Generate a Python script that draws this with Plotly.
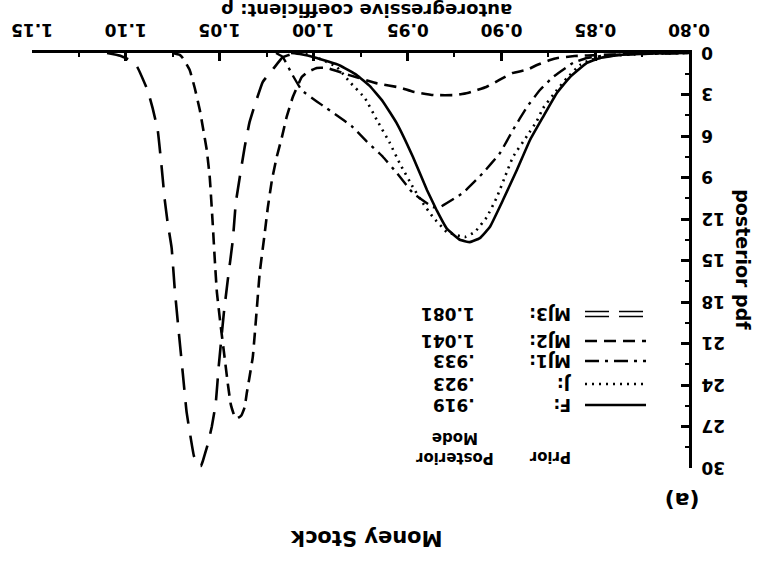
import plotly.graph_objects as go

# ---------------- data ----------------
X_TICKS = [0.80, 0.85, 0.90, 0.95, 1.00, 1.05, 1.10, 1.15]
X_TICK_LABELS = ["0.80", "0.85", "0.90", "0.95", "1.00", "1.05", "1.10", "1.15"]
Y_TICKS = [0, 3, 6, 9, 12, 15, 18, 21, 24, 27, 30]
Y_TICK_LABELS = ["0", "3", "6", "9", "12", "15", "18", "21", "24", "27", "30"]

SERIES_NAMES = ["F:", "J:", "MJ1:", "MJ2:", "MJ3:"]
POSTERIOR_MODES = [".919", ".923", ".933", "1.041", "1.081"]

F_X = [1.012, 1.0073, 0.9983, 0.986, 0.977, 0.970, 0.9631, 0.9556, 0.9471, 0.9396, 0.9343,
       0.929, 0.9221, 0.9167, 0.9114, 0.9061, 0.8991, 0.8917, 0.8847, 0.8778, 0.8704,
       0.8634, 0.8544, 0.8474, 0.8368, 0.8208, 0.80]
F_Y = [0.0, 0.07, 0.36, 0.9, 1.6, 2.4, 3.5, 5.1, 7.5, 9.9, 11.4,
       12.7, 13.5, 13.67, 13.38, 12.58, 10.63, 8.46, 6.29, 4.63, 2.89,
       1.74, 0.72, 0.36, 0.14, 0.03, 0.0]

J_X = [1.008, 1.0021, 0.9951, 0.9876, 0.9807, 0.9727, 0.9663, 0.9594, 0.954, 0.9471, 0.9418,
       0.9364, 0.929, 0.9194, 0.9141, 0.9077, 0.9023, 0.8981, 0.8938, 0.8863, 0.881,
       0.8778, 0.8704, 0.865, 0.8581, 0.8528, 0.8421, 0.8261, 0.80]
J_Y = [0.0, 0.14, 0.51, 1.01, 2.10, 3.25, 4.84, 6.5, 8.0, 9.69, 10.85,
       11.86, 12.94, 13.30, 12.94, 11.86, 10.41, 8.97, 7.52, 6.0, 4.9,
       4.0, 2.68, 1.81, 0.87, 0.51, 0.22, 0.07, 0.0]

MJ1_X = [1.020, 1.0164, 1.0116, 1.0063, 0.9983, 0.993, 0.9887, 0.9796, 0.9716, 0.9631, 0.9556,
         0.9471, 0.9364, 0.9327, 0.9205, 0.9098, 0.9007, 0.8938, 0.8863, 0.8794, 0.8725,
         0.8618, 0.8544, 0.8421, 0.826, 0.80]
MJ1_Y = [0.0, 0.29, 1.5, 2.7, 3.5, 4.0, 4.4, 5.3, 6.4, 7.5, 8.68,
         10.12, 11.14, 11.14, 10.12, 8.68, 7.23, 5.57, 3.90, 2.68, 1.74,
         0.72, 0.36, 0.14, 0.07, 0.0]

MJ2_X = [1.075, 1.0713, 1.0697, 1.066, 1.0633, 1.0606, 1.059, 1.0569, 1.0553, 1.0537, 1.0526,
         1.0515, 1.0495, 1.0474, 1.0457, 1.0441, 1.0420, 1.0405, 1.0385, 1.0367, 1.0356,
         1.0324, 1.0303, 1.0287, 1.026, 1.0244, 1.0222, 1.0196, 1.0169, 1.0143, 1.0111,
         1.0063, 1.0031, 0.9983, 0.993, 0.981, 0.966, 0.954, 0.947, 0.936, 0.924,
         0.918, 0.913, 0.908, 0.901, 0.894, 0.886, 0.881, 0.874, 0.870, 0.861,
         0.847, 0.826, 0.81]
MJ2_Y = [0.0, 0.14, 0.36, 1.23, 2.53, 4.12, 5.35, 7.01, 9.0, 12.4, 15.0,
         17.3, 19.7, 22.0, 23.9, 25.4, 26.3, 26.4, 26.2, 25.6, 24.6,
         22.0, 18.6, 15.9, 13.0, 11.2, 9.2, 7.5, 6.1, 4.6, 3.2,
         1.74, 1.37, 1.08, 1.08, 1.6, 2.2, 2.5, 2.8, 3.04, 3.04,
         2.89, 2.68, 2.46, 1.95, 1.45, 1.2, 0.87, 0.51, 0.36, 0.22,
         0.14, 0.07, 0.0]

MJ3_X = [1.110, 1.103, 1.098, 1.094, 1.0884, 1.0857, 1.083, 1.0809, 1.0793, 1.0777, 1.0756,
         1.074, 1.0718, 1.0697, 1.0676, 1.0638, 1.0617, 1.0600, 1.059, 1.0564, 1.0542,
         1.0521, 1.0505, 1.0478, 1.0457, 1.043, 1.0414, 1.0367, 1.0341, 1.0314, 1.0271,
         1.0218, 1.0164, 1.010]
MJ3_Y = [0.0, 0.2, 0.5, 1.0, 2.7, 4.0, 5.6, 8.3, 10.6, 12.3, 14.1,
         17.0, 20.2, 23.1, 26.0, 29.1, 29.85, 29.85, 29.5, 28.3, 27.0,
         25.3, 22.6, 18.8, 16.4, 13.5, 10.8, 6.8, 5.0, 3.8, 2.1,
         1.2, 0.3, 0.0]

# ---------------- figure ----------------
FONT = "DejaVu Sans"
BLACK = "black"

styles = [
    dict(dash="solid", width=2.6),
    dict(dash="2px,5px", width=2.6),
    dict(dash="14px,6px,3px,6px", width=2.4),
    dict(dash="12px,7px", width=2.6),
    dict(dash="22px,12px", width=2.6),
]
xs = [F_X, J_X, MJ1_X, MJ2_X, MJ3_X]
ys = [F_Y, J_Y, MJ1_Y, MJ2_Y, MJ3_Y]

fig = go.Figure()
for name, x, y, st in zip(SERIES_NAMES, xs, ys, styles):
    fig.add_trace(go.Scatter(x=x, y=y, mode="lines", name=name, showlegend=False,
                             hoverinfo="skip",
                             line=dict(color=BLACK, width=st["width"], dash=st["dash"],
                                       shape="spline", smoothing=0.3)))

fig.update_layout(
    width=782, height=562,
    margin=dict(l=32, r=93, t=53, b=94),
    paper_bgcolor="white", plot_bgcolor="white",
    font=dict(family=FONT, color=BLACK),
    showlegend=False,
    xaxis=dict(
        side="top", range=[1.15, 0.80], tickmode="array",
        tickvals=X_TICKS, showticklabels=False, automargin=False,
        ticks="inside", ticklen=8, tickwidth=2.5, tickcolor=BLACK,
        showline=True, linewidth=3, linecolor=BLACK, showgrid=False, zeroline=False,
        minor=dict(tick0=0.8, dtick=0.025, ticks="inside", ticklen=4, tickwidth=2,
                   tickcolor=BLACK, showgrid=False),
    ),
    yaxis=dict(
        side="right", range=[30, 0], tickmode="array",
        tickvals=Y_TICKS, showticklabels=False, automargin=False,
        ticks="inside", ticklen=8, tickwidth=2.5, tickcolor=BLACK,
        showline=True, linewidth=3, linecolor=BLACK, showgrid=False, zeroline=False,
        minor=dict(tick0=0, dtick=1.5, ticks="inside", ticklen=4, tickwidth=2,
                   tickcolor=BLACK, showgrid=False),
    ),
)

tick_font = dict(family=FONT, size=17, color=BLACK, weight="bold")
ann_font = dict(family=FONT, size=17, color=BLACK, weight="bold")

# upside-down tick labels
for v, lab in zip(X_TICKS, X_TICK_LABELS):
    fig.add_annotation(text=lab, x=v, xref="x", y=1, yref="paper",
                       xanchor="center", yanchor="bottom", yshift=11,
                       showarrow=False, textangle=180, font=tick_font)
for v, lab in zip(Y_TICKS, Y_TICK_LABELS):
    fig.add_annotation(text=lab, x=1, xref="paper", y=v, yref="y",
                       xanchor="left", yanchor="middle", xshift=10,
                       showarrow=False, textangle=180, font=tick_font)

# axis titles and panel text (upside down)
fig.add_annotation(text="autoregressive coefficient: ρ", xref="paper", yref="paper",
                   x=0.51, y=1.104, xanchor="center", yanchor="middle",
                   showarrow=False, textangle=180,
                   font=dict(family=FONT, size=18, color=BLACK, weight="bold"))
fig.add_annotation(text="posterior pdf", xref="paper", yref="paper",
                   x=1.082, y=0.501, xanchor="center", yanchor="middle",
                   showarrow=False, textangle=90,
                   font=dict(family=FONT, size=19, color=BLACK, weight="bold"))
fig.add_annotation(text="Money Stock", xref="paper", yref="paper",
                   x=0.508, y=-0.169, xanchor="center", yanchor="middle",
                   showarrow=False, textangle=180,
                   font=dict(family=FONT, size=21, color=BLACK, weight="bold"))
fig.add_annotation(text="(a)", xref="paper", yref="paper",
                   x=0.989, y=-0.077, xanchor="center", yanchor="middle",
                   showarrow=False, textangle=180,
                   font=dict(family=FONT, size=22, color=BLACK, weight="bold"))

# legend (upside down, drawn inside the plot)
row_y = [25.45, 23.93, 22.27, 20.82, 18.87]
sample_x0, sample_x1 = 0.8554, 0.8229
label_x = 0.8618
value_x = 0.9130
for i, (name, mode) in enumerate(zip(SERIES_NAMES, POSTERIOR_MODES)):
    fig.add_annotation(text=name, x=label_x, y=row_y[i], xref="x", yref="y",
                       xanchor="right", yanchor="middle", showarrow=False,
                       textangle=180, font=ann_font)
    fig.add_annotation(text=mode, x=value_x, y=row_y[i], xref="x", yref="y",
                       xanchor="right", yanchor="middle", showarrow=False,
                       textangle=180, font=ann_font)
    st = styles[i]
    if i < 4:
        fig.add_shape(type="line", xref="x", yref="y", x0=sample_x0, x1=sample_x1,
                      y0=row_y[i], y1=row_y[i],
                      line=dict(color=BLACK, width=st["width"], dash=st["dash"]))
    else:
        for dy in (-0.18, 0.18):
            fig.add_shape(type="line", xref="x", yref="y", x0=sample_x0, x1=sample_x1,
                          y0=row_y[i] + dy, y1=row_y[i] + dy,
                          line=dict(color=BLACK, width=1.5, dash="24px,10px"))

fig.add_annotation(text="Prior", x=label_x, y=29.2, xref="x", yref="y",
                   xanchor="right", yanchor="middle", showarrow=False,
                   textangle=180, font=dict(family=FONT, size=15, color=BLACK, weight="bold"))
fig.add_annotation(text="Posterior<br>Mode", x=0.9247, y=28.5, xref="x", yref="y",
                   xanchor="center", yanchor="middle", showarrow=False,
                   textangle=180, font=dict(family=FONT, size=15, color=BLACK, weight="bold"))

# remove the browser's default 8px page margin so the figure fills the window
fig.write_html("out.html", config={"displayModeBar": False},
               post_script="document.body.style.margin='0';")
